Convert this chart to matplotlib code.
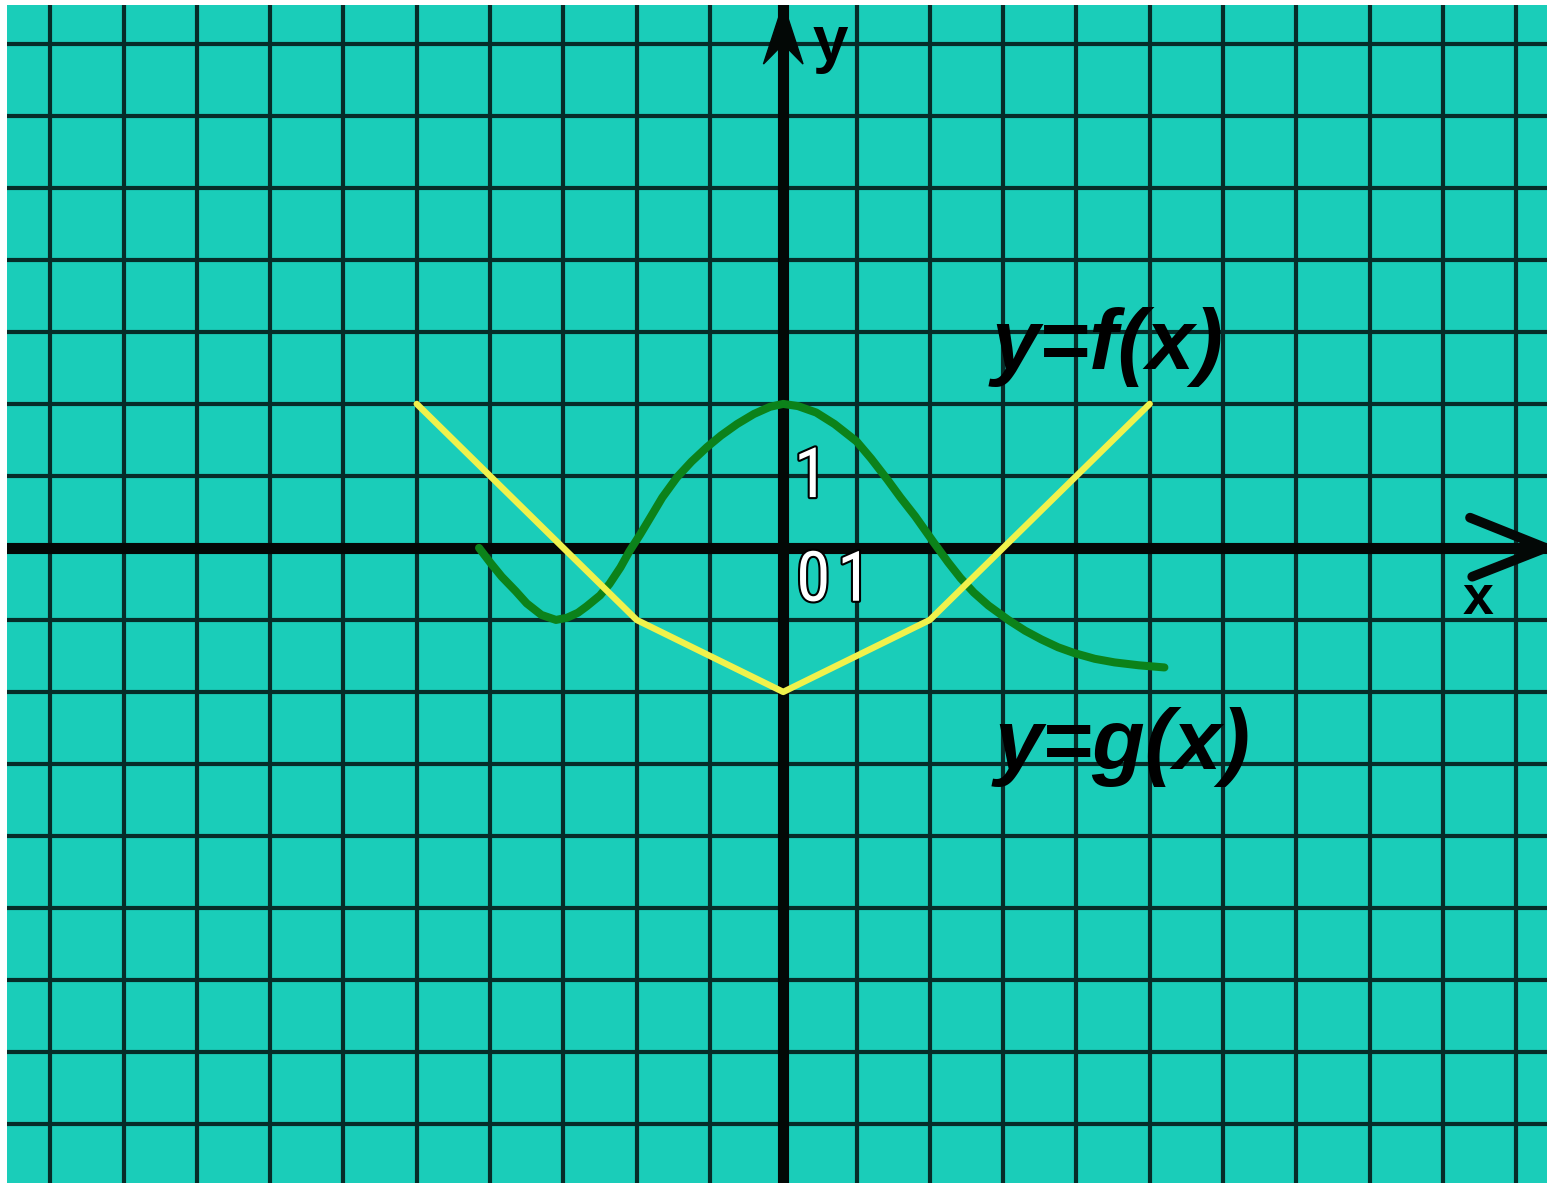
import matplotlib
matplotlib.use('Agg')
import matplotlib.pyplot as plt
import matplotlib.patheffects as pe
from matplotlib.patches import Polygon
from matplotlib import font_manager

# ---- data (grid units) ----
g_x = [-5, -2, 0, 2, 5]
g_y = [2, -1, -2, -1, 2]

f_x = [-4.15, -4.0, -3.84, -3.65, -3.5, -3.3, -3.1, -2.95, -2.8, -2.68, -2.5,
       -2.37, -2.22, -2.1, -1.95, -1.82, -1.65, -1.45, -1.25, -1.04, -0.85,
       -0.63, -0.4, -0.18, 0.0, 0.2, 0.45, 0.7, 1.0, 1.2, 1.42, 1.6, 1.8, 2.05,
       2.25, 2.42, 2.6, 2.8, 3.07, 3.3, 3.52, 3.75, 3.97, 4.25, 4.52, 4.85, 5.2]
f_y = [0.0, -0.2, -0.4, -0.6, -0.77, -0.93, -1.0, -0.97, -0.9, -0.81, -0.66,
       -0.5, -0.27, -0.05, 0.19, 0.41, 0.7, 0.98, 1.2, 1.4, 1.56,
       1.72, 1.86, 1.96, 2.0, 1.97, 1.88, 1.72, 1.48, 1.24, 0.95, 0.7, 0.44, 0.08,
       -0.2, -0.42, -0.62, -0.8, -1.0, -1.15, -1.27, -1.38, -1.46, -1.54,
       -1.59, -1.63, -1.66]

x_ticks = list(range(-10, 11))
y_ticks = list(range(-8, 8))
x_lim = (-10.59, 10.42)
y_lim = (-8.82, 7.54)

label_f = "y=f(x)"
label_g = "y=g(x)"
num_labels = [("1", 0.38, 0.97), ("0", 0.41, -0.47), ("1", 0.97, -0.47)]

# ---- style ----
BG = '#1ACDB9'
GRID = '#062c28'
AX = '#030806'
GREEN = '#0c821a'
YELLOW = '#f0f24c'

names = sorted({f.name for f in font_manager.fontManager.ttflist})
narrow = None
for cand in ['Liberation Sans Narrow', 'DejaVu Sans Condensed', 'Roboto Condensed',
             'Open Sans Condensed', 'Noto Sans Condensed']:
    if cand in names:
        narrow = cand
        break
if narrow is None:
    for n in names:
        if 'Narrow' in n or 'Condensed' in n:
            narrow = n
            break
num_size = 50 if narrow else 40
if narrow is None:
    narrow = 'Liberation Sans'

W, H, DPI = 1547, 1185, 100
fig = plt.figure(figsize=(W / DPI, H / DPI), dpi=DPI, facecolor='white')
ax = fig.add_axes([7 / W, 2 / H, 1540 / W, 1178 / H])
ax.set_facecolor(BG)
ax.set_xlim(*x_lim)
ax.set_ylim(*y_lim)
for s in ax.spines.values():
    s.set_visible(False)
ax.set_xticks([])
ax.set_yticks([])

for xv in x_ticks:
    ax.axvline(xv, color=GRID, lw=3.0, zorder=1)
for yv in y_ticks:
    ax.axhline(yv, color=GRID, lw=3.0, zorder=1)

# axes
ax.axhline(0, color=AX, lw=8, zorder=2)
ax.axvline(0, color=AX, lw=8, zorder=2)

# x arrow (open chevron)
ax.plot([9.37, 10.40, 9.40], [0.42, 0.0, -0.40], color=AX, lw=7,
        solid_capstyle='round', solid_joinstyle='miter', zorder=2, clip_on=False)
# y arrow (filled)
ax.add_patch(Polygon([[0, 7.56], [0.27, 6.72], [0, 7.0], [-0.27, 6.72]],
                     closed=True, color=AX, zorder=2))

# curves
ax.plot(f_x, f_y, color=GREEN, lw=5.8, solid_capstyle='round',
        solid_joinstyle='round', zorder=3)
ax.plot(g_x, g_y, color=YELLOW, lw=4.6, solid_capstyle='round',
        solid_joinstyle='round', zorder=4)

# labels
ax.text(4.42, 2.79, label_f, fontsize=62, fontweight='bold', fontstyle='italic',
        family='Liberation Sans', ha='center', va='center', color='black', zorder=5)
ax.text(4.63, -2.76, label_g, fontsize=62, fontweight='bold', fontstyle='italic',
        family='Liberation Sans', ha='center', va='center', color='black', zorder=5)

ax.text(0.64, 7.0, "y", fontsize=46, fontweight='bold', family='Liberation Sans',
        ha='center', va='center', color='black', zorder=5)
ax.text(9.48, -0.72, "x", fontsize=40, fontweight='bold', family='Liberation Sans',
        ha='center', va='center', color='black', zorder=5)

for t, xx, yy in num_labels:
    ax.text(xx, yy, t, fontsize=num_size, family=narrow, ha='center', va='center',
            color='white', zorder=5,
            path_effects=[pe.Stroke(linewidth=3, foreground='black'), pe.Normal()])

fig.savefig('out.png', dpi=DPI, facecolor='white')
